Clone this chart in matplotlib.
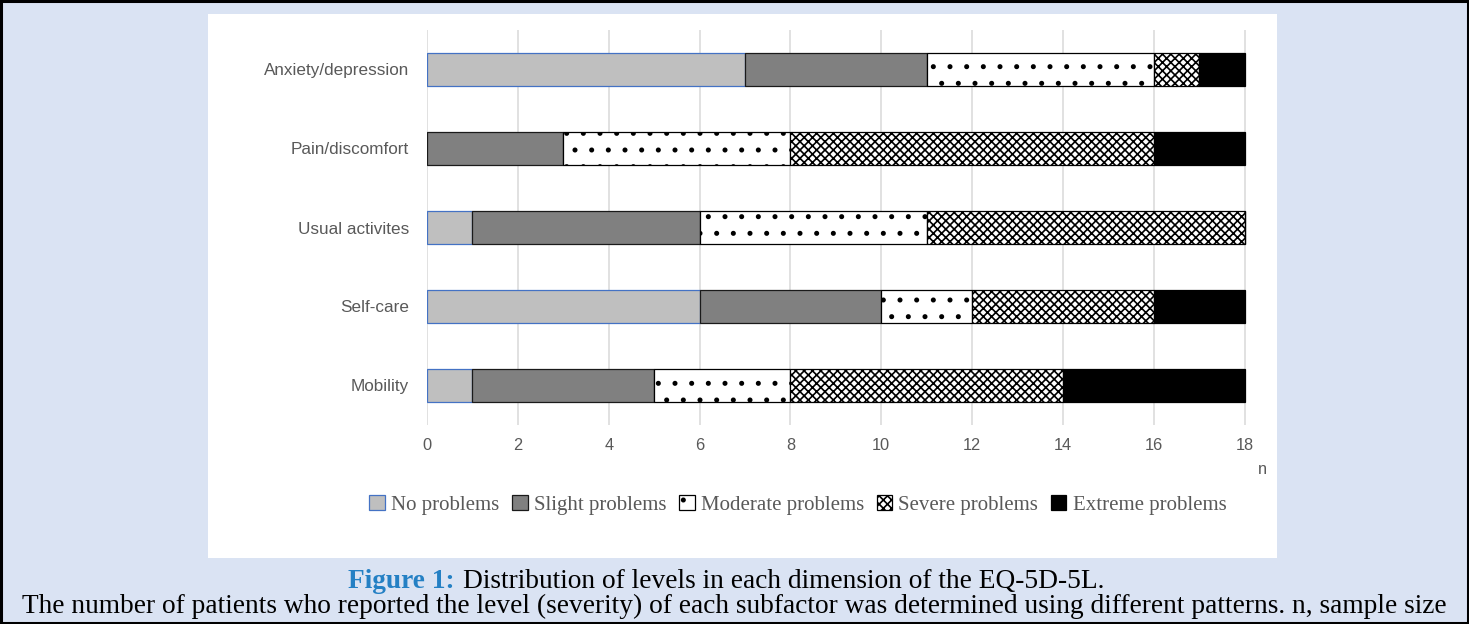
import matplotlib
matplotlib.use("Agg")
import matplotlib.pyplot as plt
from matplotlib.patches import Rectangle

plt.rcParams['font.family'] = ['Liberation Sans', 'DejaVu Sans']
plt.rcParams['hatch.linewidth'] = 1.2

# EQ-5D-5L dimensions, bottom to top
categories = ['Mobility', 'Self-care', 'Usual activites', 'Pain/discomfort', 'Anxiety/depression']
levels = ['No problems', 'Slight problems', 'Moderate problems', 'Severe problems', 'Extreme problems']

no_problems = [1, 6, 1, 0, 7]
slight = [4, 4, 5, 3, 4]
moderate = [3, 2, 5, 5, 5]
severe = [6, 4, 7, 8, 1]
extreme = [4, 2, 0, 2, 1]
xticks = [0, 2, 4, 6, 8, 10, 12, 14, 16, 18]

series = [no_problems, slight, moderate, severe, extreme]
styles = [
    dict(facecolor='#BFBFBF', edgecolor='#4472C4', hatch=None),
    dict(facecolor='#808080', edgecolor='#1A1A1A', hatch=None),
    dict(facecolor='white', edgecolor='black', hatch='.'),
    dict(facecolor='white', edgecolor='black', hatch='xxxx'),
    dict(facecolor='black', edgecolor='black', hatch=None),
]

W, H = 1469, 624
fig = plt.figure(figsize=(W / 100, H / 100), dpi=100)
fig.patch.set_facecolor('#DAE3F3')

# white chart panel and outer frame
fig.patches.append(Rectangle((208 / W, 1 - 558 / H), (1277 - 208) / W, (558 - 14) / H,
                             transform=fig.transFigure, facecolor='white', edgecolor='none', zorder=-1))
fig.patches.append(Rectangle((0.001, 0.002), 0.998, 0.996, transform=fig.transFigure,
                             facecolor='none', edgecolor='black', linewidth=2.2, zorder=5))

ax = fig.add_axes([427 / W, 1 - 425 / H, 820 / W, 395 / H])
ax.set_zorder(2)
ax.set_facecolor('none')

left = [0] * len(categories)
for vals, st, name in zip(series, styles, levels):
    ax.barh(range(len(categories)), vals, left=left, height=0.42, label=name,
            linewidth=0.9, zorder=3, **st)
    left = [a + b for a, b in zip(left, vals)]

ax.set_xlim(0, 18.05)
ax.set_ylim(-0.5, 4.5)
ax.set_xticks(xticks)
ax.set_yticks(range(len(categories)), labels=categories)
ax.tick_params(axis='y', length=0, pad=13, labelsize=12.3, labelcolor='#595959')
ax.tick_params(axis='x', length=0, pad=9, labelsize=11.8, labelcolor='#595959')
ax.grid(axis='x', color='#D9D9D9', linewidth=1.1, zorder=0)
for s in ax.spines.values():
    s.set_visible(False)

fig.text(1262 / W, 1 - 470 / H, 'n', ha='center', va='center', fontsize=11.8, color='#595959')

handles, labels = ax.get_legend_handles_labels()
fig.legend(handles, labels, loc='center', bbox_to_anchor=(798 / W, 1 - 505 / H), ncol=5,
           frameon=False, handlelength=0.75, handleheight=0.75, handletextpad=0.3,
           columnspacing=0.6, prop={'family': 'Liberation Serif', 'size': 15},
           labelcolor='#595959')

fig.text(455 / W, 1 - 581 / H, 'Figure 1:', ha='right', va='center', fontsize=19.7,
         family='Liberation Serif', fontweight='bold', color='#2480C4')
fig.text(463 / W, 1 - 581 / H, 'Distribution of levels in each dimension of the EQ-5D-5L.',
         ha='left', va='center', fontsize=19.7, family='Liberation Serif', color='black')
fig.text(0.5, 1 - 606 / H,
         'The number of patients who reported the level (severity) of each subfactor was '
         'determined using different patterns. n, sample size',
         ha='center', va='center', fontsize=19.7, family='Liberation Serif', color='black')

fig.savefig('out.png', dpi=100, facecolor=fig.get_facecolor())
